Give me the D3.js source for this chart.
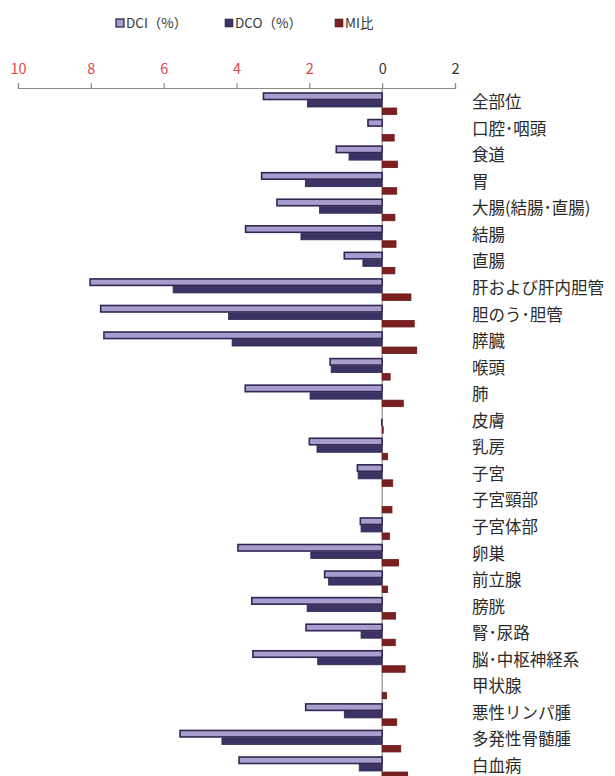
<!DOCTYPE html>
<html>
<head>
<meta charset="utf-8">
<script src="https://cdn.jsdelivr.net/npm/d3@7"></script>
<style>
  body { margin: 0; background: #fff; }
  svg { display: block; font-family: "Noto Sans CJK JP", "Noto Sans", sans-serif; }
</style>
</head>
<body>
<div id="chart"></div>
<script>
// Categories (top to bottom)
const categories = [
    '全部位', '口腔･咽頭', '食道', '胃', '大腸(結腸･直腸)', '結腸', '直腸',
    '肝および肝内胆管', '胆のう･胆管', '膵臓', '喉頭', '肺', '皮膚', '乳房',
    '子宮', '子宮頸部', '子宮体部', '卵巣', '前立腺', '膀胱', '腎･尿路',
    '脳･中枢神経系', '甲状腺', '悪性リンパ腫', '多発性骨髄腫', '白血病'
];

// DCI (%) - drawn to the left
const dciValues = [
    3.26, 0.39, 1.26, 3.31, 2.89, 3.75, 1.04,
    8.02, 7.73, 7.64, 1.43, 3.76, 0.00, 2.00,
    0.68, 0.00, 0.60, 3.96, 1.58, 3.58, 2.09,
    3.55, 0.00, 2.10, 5.55, 3.93
];

// DCO (%) - drawn to the left
const dcoValues = [
    2.05, 0.00, 0.91, 2.11, 1.72, 2.23, 0.53,
    5.74, 4.22, 4.12, 1.40, 1.98, 0.02, 1.79,
    0.66, 0.00, 0.58, 1.96, 1.47, 2.06, 0.58,
    1.77, 0.00, 1.04, 4.40, 0.63
];

// MI ratio - drawn to the right
const miValues = [
    0.40, 0.33, 0.42, 0.40, 0.35, 0.38, 0.35,
    0.79, 0.88, 0.95, 0.22, 0.58, 0.03, 0.15,
    0.29, 0.27, 0.20, 0.45, 0.15, 0.37, 0.36,
    0.63, 0.12, 0.40, 0.51, 0.70
];

const tickValues = [-10, -8, -6, -4, -2, 0, 2];

const seriesNames = ['DCI（%）', 'DCO（%）', 'MI比'];
const seriesKeys = ['dci', 'dco', 'mi'];

const width = 615, height = 776;

const colors = { dci: '#a99dcf', dco: '#3c3265', mi: '#7a2020' };
const strokes = { dci: '#2f2752', dco: '#2f2752', mi: '#6a1818' };

const rows = categories.map((c, i) => ({
    name: c, dci: -dciValues[i], dco: -dcoValues[i], mi: miValues[i]
}));

const svg = d3.select('#chart').append('svg')
    .attr('width', width)
    .attr('height', height);

// Scales
const x = d3.scaleLinear().domain([-10, 2]).range([18, 455]);
const y = d3.scaleBand().domain(categories).range([89, 89 + 26 * 26.56]);
const ySub = d3.scaleBand().domain(seriesKeys).range([3.5, 26]);

// Zero line
svg.append('line')
    .attr('x1', x(0)).attr('x2', x(0))
    .attr('y1', 88).attr('y2', height)
    .attr('stroke', '#8a8a8a')
    .attr('stroke-width', 1.2);

// Bars
const groups = svg.selectAll('.row')
    .data(rows)
    .enter().append('g')
    .attr('class', 'row')
    .attr('transform', d => `translate(0, ${y(d.name)})`);

seriesKeys.forEach(key => {
    groups.filter(d => d[key] !== 0)
        .append('rect')
        .attr('x', d => Math.min(x(d[key]), x(0)))
        .attr('y', ySub(key) + 0.5)
        .attr('width', d => Math.abs(x(d[key]) - x(0)))
        .attr('height', ySub.bandwidth() - 1)
        .attr('fill', colors[key])
        .attr('stroke', strokes[key])
        .attr('stroke-width', key === 'dci' ? 1.6 : 0.8);
});

// Category labels
svg.selectAll('.label')
    .data(categories)
    .enter().append('text')
    .attr('class', 'label')
    .attr('x', 472)
    .attr('y', d => y(d) + y.bandwidth() / 2)
    .attr('dy', '0.35em')
    .attr('font-size', 16.5)
    .attr('fill', '#2a2a2a')
    .text(d => d);

// Axis on top
const axis = svg.append('g')
    .attr('transform', 'translate(0, 88)')
    .call(d3.axisTop(x)
        .tickValues(tickValues)
        .tickSize(5)
        .tickSizeOuter(5)
        .tickPadding(9)
        .tickFormat(d => Math.abs(d)));

axis.select('.domain').attr('stroke', '#8a8a8a').attr('stroke-width', 1.2);
axis.selectAll('.tick line').attr('stroke', '#8a8a8a').attr('stroke-width', 1.2);
axis.selectAll('.tick text')
    .attr('font-size', 14.5)
    .attr('font-family', '"Noto Sans CJK JP", sans-serif')
    .attr('fill', d => d < 0 ? '#e0454a' : '#333');

// Legend
const legendX = [116, 225, 335];
const legend = svg.selectAll('.legend')
    .data(seriesKeys)
    .enter().append('g')
    .attr('class', 'legend')
    .attr('transform', (d, i) => `translate(${legendX[i]}, 23)`);

legend.append('rect')
    .attr('x', 0).attr('y', -4)
    .attr('width', 8).attr('height', 8)
    .attr('fill', d => colors[d])
    .attr('stroke', d => strokes[d])
    .attr('stroke-width', d => d === 'dci' ? 1.3 : 0.6);

legend.append('text')
    .attr('x', 10)
    .attr('dy', '0.35em')
    .attr('font-size', 13.5)
    .attr('fill', '#333')
    .text((d, i) => seriesNames[i]);
</script>
</body>
</html>
